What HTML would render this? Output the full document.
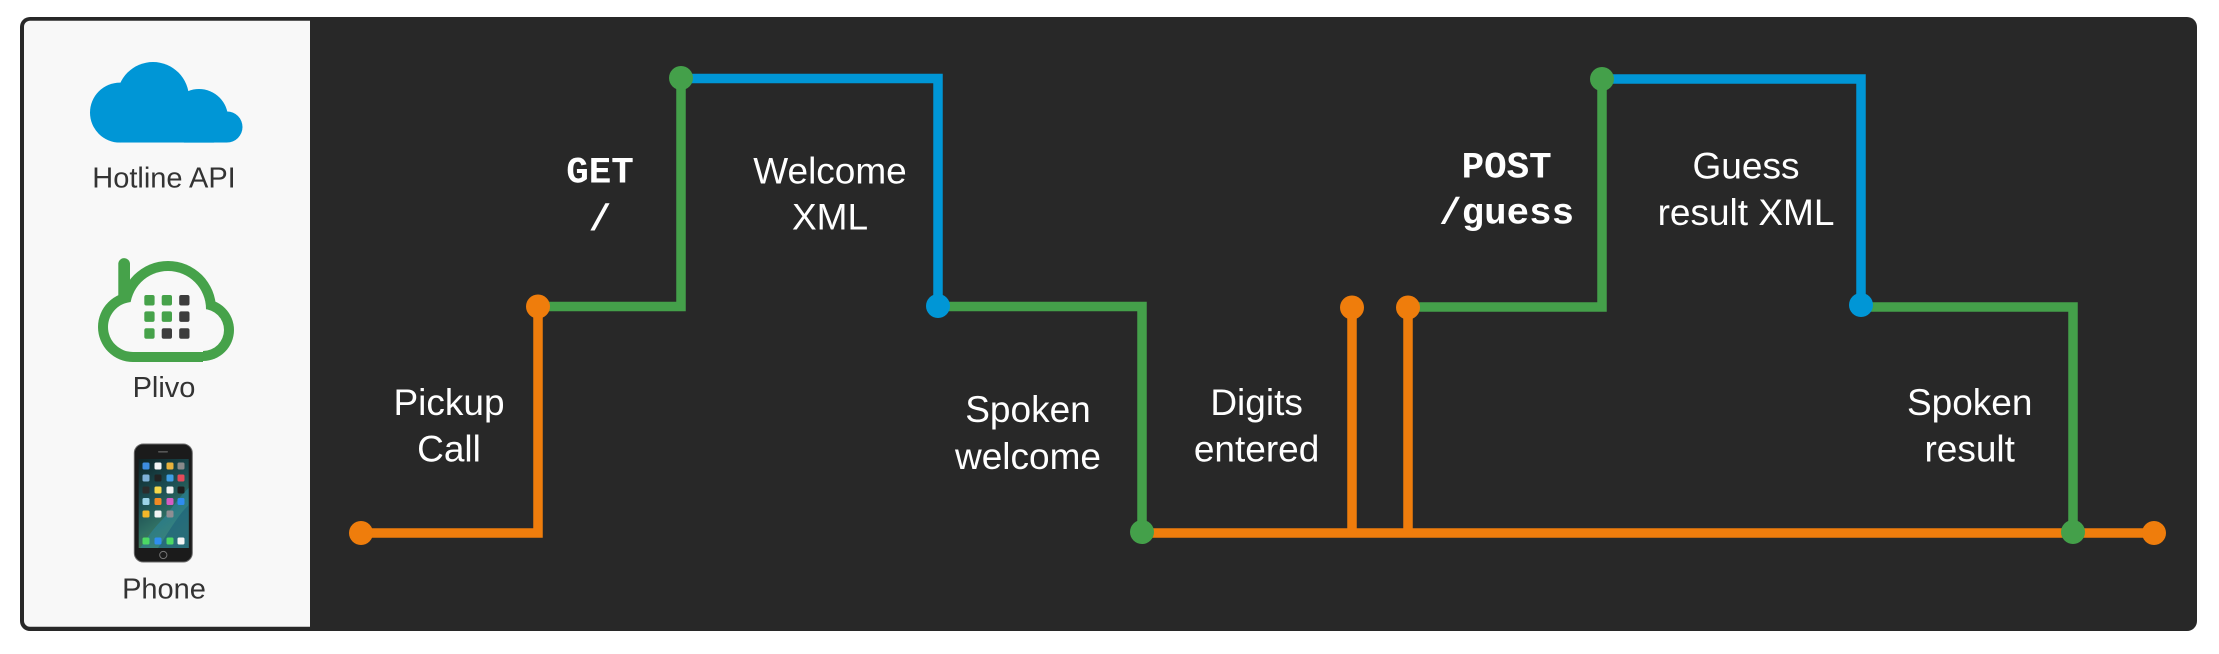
<!DOCTYPE html>
<html>
<head>
<meta charset="utf-8">
<style>
  html,body{margin:0;padding:0;background:#ffffff;}
  body{width:2219px;height:654px;overflow:hidden;}
  svg{display:block;}
  .lbl{font-family:"Liberation Sans",Arial,sans-serif;font-size:37px;fill:#ffffff;text-anchor:middle;}
  .mono{font-family:"Liberation Mono","Courier New",monospace;font-size:37.5px;font-weight:bold;fill:#ffffff;text-anchor:middle;}
  .side{font-family:"Liberation Sans",Arial,sans-serif;font-size:29px;fill:#333333;text-anchor:middle;}
</style>
</head>
<body>
<svg width="2219" height="654" viewBox="0 0 2219 654" xmlns="http://www.w3.org/2000/svg">
  <defs>
    <clipPath id="cloudclip"><rect x="80" y="50" width="170" height="92.6"/></clipPath>
    <linearGradient id="wall" x1="0" y1="0" x2="0.4" y2="1">
      <stop offset="0" stop-color="#0e2326"/>
      <stop offset="0.45" stop-color="#1c4d52"/>
      <stop offset="0.75" stop-color="#2f6e63"/>
      <stop offset="1" stop-color="#4f7f4c"/>
    </linearGradient>
  </defs>

  <!-- frame -->
  <rect x="20" y="17" width="2177" height="614" rx="10" ry="10" fill="#282828"/>
  <path d="M30,20.7 H310 V626.7 H30 A6,6 0 0 1 24,620.7 V26.7 A6,6 0 0 1 30,20.7 Z" fill="#f8f8f8"/>

  <!-- Hotline API cloud -->
  <g fill="#0096d6" clip-path="url(#cloudclip)">
    <circle cx="153" cy="98" r="36"/>
    <circle cx="120" cy="112.6" r="30"/>
    <circle cx="199" cy="118" r="29"/>
    <circle cx="227" cy="127" r="15.5"/>
    <rect x="120" y="120" width="107" height="22.6"/>
  </g>
  <text class="side" x="164" y="187.7">Hotline API</text>

  <!-- Plivo icon -->
  <g fill="#46a24a">
    <circle cx="168" cy="309" r="48"/>
    <circle cx="133" cy="327" r="35"/>
    <circle cx="203" cy="330" r="31"/>
    <rect x="133" y="300" width="70" height="62"/>
  </g>
  <g fill="#f8f8f8">
    <circle cx="168" cy="309" r="38"/>
    <circle cx="133" cy="327" r="25"/>
    <circle cx="203" cy="330" r="21"/>
    <rect x="133" y="300" width="70" height="52"/>
  </g>
  <path d="M118.3,264 A5.85,5.85 0 0 1 130,264 V298 H118.3 Z" fill="#46a24a"/>
  <g>
    <rect x="144.3" y="295" width="10.3" height="10.5" rx="2" fill="#46a24a"/>
    <rect x="161.7" y="295" width="10.3" height="10.5" rx="2" fill="#46a24a"/>
    <rect x="179.2" y="295" width="10.3" height="10.5" rx="2" fill="#3d3d3d"/>
    <rect x="144.3" y="311.4" width="10.3" height="10.5" rx="2" fill="#46a24a"/>
    <rect x="161.7" y="311.4" width="10.3" height="10.5" rx="2" fill="#46a24a"/>
    <rect x="179.2" y="311.4" width="10.3" height="10.5" rx="2" fill="#3d3d3d"/>
    <rect x="144.3" y="328.3" width="10.3" height="10.5" rx="2" fill="#46a24a"/>
    <rect x="161.7" y="328.3" width="10.3" height="10.5" rx="2" fill="#3d3d3d"/>
    <rect x="179.2" y="328.3" width="10.3" height="10.5" rx="2" fill="#3d3d3d"/>
  </g>
  <text class="side" x="164" y="397">Plivo</text>

  <!-- Phone icon -->
  <rect x="134.3" y="444" width="58" height="118" rx="9" fill="#1b1b1b" stroke="#6a6a6a" stroke-width="1"/>
  <rect x="138.7" y="459" width="50" height="89" fill="url(#wall)"/>
  <path d="M188.7,488 C176,500 170,512 160,522 C152,530 146,540 140,548 H188.7 Z" fill="#2a86a0" opacity="0.55"/>
  <path d="M188.7,505 C178,515 170,530 158,548 H188.7 Z" fill="#1d5f78" opacity="0.6"/>
  <rect x="158" y="451" width="10" height="1.6" rx="0.8" fill="#555"/>
  <circle cx="163.3" cy="555" r="3.6" fill="none" stroke="#777" stroke-width="1"/>
  <g>
    <rect x="142.5" y="462.5" width="7" height="7" rx="1.5" fill="#3d8de0"/>
    <rect x="154.5" y="462.5" width="7" height="7" rx="1.5" fill="#f4f4f4"/>
    <rect x="166.5" y="462.5" width="7" height="7" rx="1.5" fill="#e9b23c"/>
    <rect x="177.5" y="462.5" width="7" height="7" rx="1.5" fill="#8a8a8a"/>
    <rect x="142.5" y="474.5" width="7" height="7" rx="1.5" fill="#7fb1d8"/>
    <rect x="154.5" y="474.5" width="7" height="7" rx="1.5" fill="#222"/>
    <rect x="166.5" y="474.5" width="7" height="7" rx="1.5" fill="#3f9ee6"/>
    <rect x="177.5" y="474.5" width="7" height="7" rx="1.5" fill="#e44a5a"/>
    <rect x="142.5" y="486.5" width="7" height="7" rx="1.5" fill="#2c2c2c"/>
    <rect x="154.5" y="486.5" width="7" height="7" rx="1.5" fill="#f5d74a"/>
    <rect x="166.5" y="486.5" width="7" height="7" rx="1.5" fill="#f4f4f4"/>
    <rect x="177.5" y="486.5" width="7" height="7" rx="1.5" fill="#1e1e1e"/>
    <rect x="142.5" y="498" width="7" height="7" rx="1.5" fill="#9cd3e8"/>
    <rect x="154.5" y="498" width="7" height="7" rx="1.5" fill="#f08a24"/>
    <rect x="166.5" y="498" width="7" height="7" rx="1.5" fill="#d65cc4"/>
    <rect x="177.5" y="498" width="7" height="7" rx="1.5" fill="#2e8cf0"/>
    <rect x="142.5" y="510.5" width="7" height="7" rx="1.5" fill="#f4b72a"/>
    <rect x="154.5" y="510.5" width="7" height="7" rx="1.5" fill="#f4f4f4"/>
    <rect x="166.5" y="510.5" width="7" height="7" rx="1.5" fill="#8e8e93"/>
    <rect x="142.5" y="537.5" width="7" height="7" rx="1.5" fill="#4cd964"/>
    <rect x="154.5" y="537.5" width="7" height="7" rx="1.5" fill="#2f8ef0"/>
    <rect x="166.5" y="537.5" width="7" height="7" rx="1.5" fill="#4cd964"/>
    <rect x="177.5" y="537.5" width="7" height="7" rx="1.5" fill="#f4f4f4"/>
  </g>
  <text class="side" x="164" y="598.4">Phone</text>

  <!-- connectors -->
  <g fill="none" stroke-width="9.5" stroke-linejoin="miter" stroke-linecap="butt">
    <path d="M361,533 H538 V306.5" stroke="#ef7d0c"/>
    <path d="M538,306.5 H681 V78" stroke="#44a04a"/>
    <path d="M681,78.5 H938 V306.5" stroke="#0096d6"/>
    <path d="M938,306.5 H1142 V533" stroke="#44a04a"/>
    <path d="M1142,533 H2154" stroke="#ef7d0c"/>
    <path d="M1352,533 V307.5" stroke="#ef7d0c"/>
    <path d="M1408,533 V307.5" stroke="#ef7d0c"/>
    <path d="M1408,307 H1602 V79" stroke="#44a04a"/>
    <path d="M1602,79 H1861 V305" stroke="#0096d6"/>
    <path d="M1861,307 H2073 V533" stroke="#44a04a"/>
  </g>
  <g>
    <circle cx="361" cy="533" r="12" fill="#ef7d0c"/>
    <circle cx="538" cy="306.5" r="12" fill="#ef7d0c"/>
    <circle cx="681" cy="78" r="12" fill="#44a04a"/>
    <circle cx="938" cy="306" r="12" fill="#0096d6"/>
    <circle cx="1142" cy="532" r="12" fill="#44a04a"/>
    <circle cx="1352" cy="307.5" r="12" fill="#ef7d0c"/>
    <circle cx="1408" cy="307.5" r="12" fill="#ef7d0c"/>
    <circle cx="1602" cy="79" r="12" fill="#44a04a"/>
    <circle cx="1861" cy="305" r="12" fill="#0096d6"/>
    <circle cx="2073" cy="532" r="12" fill="#44a04a"/>
    <circle cx="2154" cy="533" r="12" fill="#ef7d0c"/>
  </g>

  <!-- labels -->
  <text class="lbl" x="449" y="415">Pickup</text>
  <text class="lbl" x="449" y="461.7">Call</text>

  <text class="mono" x="600" y="182.7">GET</text>
  <text class="mono" x="600" y="230">/</text>

  <text class="lbl" x="830" y="183.5">Welcome</text>
  <text class="lbl" x="830" y="229.4">XML</text>

  <text class="lbl" x="1028" y="422">Spoken</text>
  <text class="lbl" x="1028" y="469">welcome</text>

  <text class="lbl" x="1256.6" y="415">Digits</text>
  <text class="lbl" x="1256.6" y="461.7">entered</text>

  <text class="mono" x="1506.6" y="177.7">POST</text>
  <text class="mono" x="1506.6" y="223.3">/guess</text>

  <text class="lbl" x="1746" y="178.5">Guess</text>
  <text class="lbl" x="1746" y="225">result XML</text>

  <text class="lbl" x="1969.7" y="415">Spoken</text>
  <text class="lbl" x="1969.7" y="461.6">result</text>
</svg>
</body>
</html>
